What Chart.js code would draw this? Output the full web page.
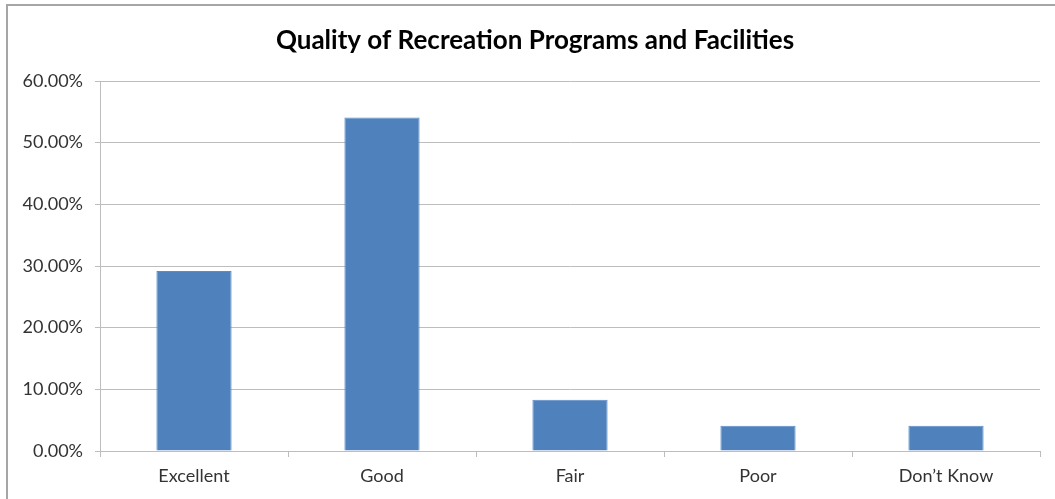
<!DOCTYPE html>
<html>
<head>
<meta charset="utf-8">
<script src="https://cdn.jsdelivr.net/npm/chart.js@4/dist/chart.umd.min.js"></script>
<style>
html,body{margin:0;padding:0;background:#fff;}
#wrap{position:relative;width:1055px;height:499px;}
</style>
</head>
<body>
<div id="wrap"><canvas id="c" width="1055" height="499"></canvas></div>
<script>
const chartTitle = "Quality of Recreation Programs and Facilities";
const categories = ["Excellent", "Good", "Fair", "Poor", "Don\u2019t Know"];
const values = [29.2, 54.1, 8.3, 4.1, 4.1];
const yTicks = [0, 10, 20, 30, 40, 50, 60];

const FONT = "Lato, 'Open Sans', sans-serif";
const GRID = '#bdbdbd';

const framePlugin = {
  id: 'frame',
  beforeDraw(chart) {
    const ctx = chart.ctx;
    ctx.save();
    ctx.fillStyle = '#fff';
    ctx.fillRect(0, 0, chart.width, chart.height);
    ctx.strokeStyle = '#a6a6a6';
    ctx.lineWidth = 2;
    ctx.beginPath();
    ctx.moveTo(7, chart.height + 2);
    ctx.lineTo(7, 5);
    ctx.lineTo(chart.width + 2, 5);
    ctx.stroke();
    ctx.restore();
  },
  afterDraw(chart) {
    const ctx = chart.ctx;
    ctx.save();
    ctx.fillStyle = '#000';
    ctx.font = "bold 26px " + FONT;
    ctx.textAlign = 'center';
    ctx.textBaseline = 'alphabetic';
    ctx.fillText(chartTitle, 535, 49);
    ctx.restore();
  }
};

new Chart(document.getElementById('c'), {
  type: 'bar',
  data: {
    labels: categories,
    datasets: [{
      data: values,
      backgroundColor: '#4f81bd',
      borderColor: '#5a8cc6',
      borderWidth: 1,
      categoryPercentage: 1.0,
      barPercentage: 0.4
    }]
  },
  options: {
    responsive: false,
    animation: false,
    layout: { padding: { left: 0, right: 15, top: 81, bottom: 0 } },
    plugins: { legend: { display: false }, title: { display: false }, tooltip: { enabled: false } },
    scales: {
      x: {
        afterFit(s) { s.height = 48; },
        grid: { offset: true, drawOnChartArea: false, color: GRID, tickLength: 6, lineWidth: 1 },
        border: { color: GRID, width: 1 },
        ticks: { color: '#333333', font: { family: FONT, size: 18 }, padding: 8 }
      },
      y: {
        min: 0, max: 60,
        afterFit(s) { s.width = 100; },
        afterBuildTicks(s) { s.ticks = yTicks.map(v => ({ value: v })); },
        grid: { color: GRID, tickLength: 5, lineWidth: 1 },
        border: { color: GRID, width: 1 },
        ticks: {
          color: '#333333', font: { family: FONT, size: 18 }, padding: 12,
          callback: v => v.toFixed(2) + '%'
        }
      }
    }
  },
  plugins: [framePlugin]
});
</script>
</body>
</html>
